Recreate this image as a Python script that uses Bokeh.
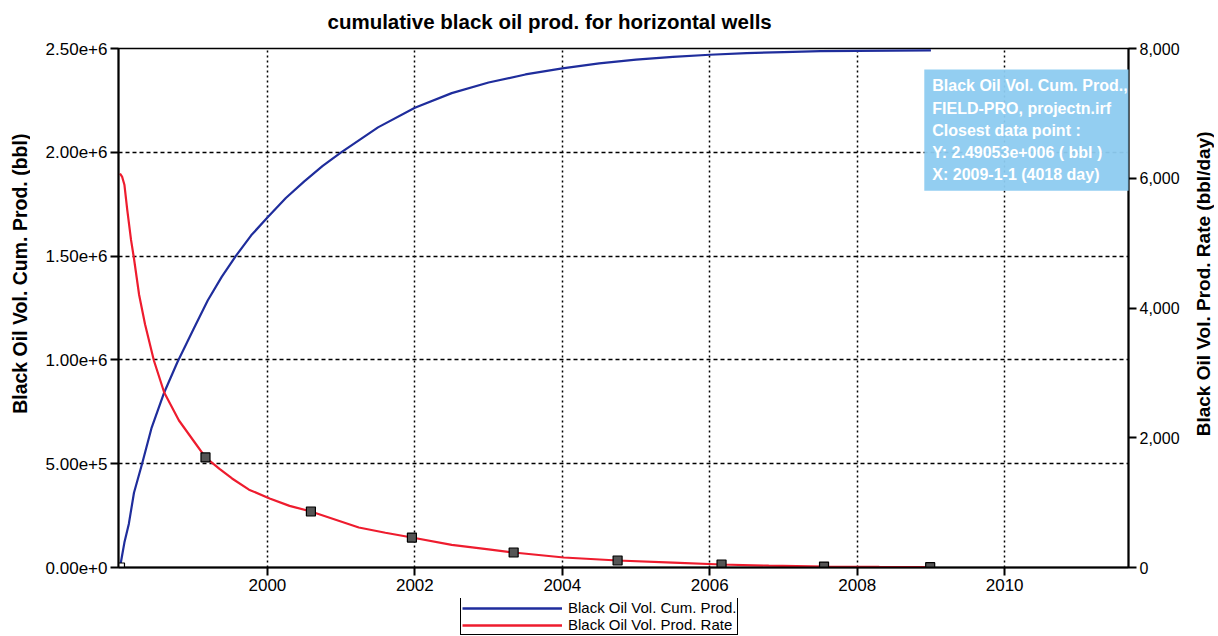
import math
from bokeh.plotting import figure
from bokeh.layouts import column, row
from bokeh.models import (Range1d, LinearAxis, FixedTicker, CustomJSTickFormatter,
                          NumeralTickFormatter, Legend, LegendItem, Label)
from bokeh.embed import file_html
from bokeh.resources import INLINE

# ---- data ----
cum_years = [1998.00, 1998.03, 1998.06, 1998.12, 1998.19, 1998.30, 1998.43, 1998.60,
             1998.78, 1999.00, 1999.19, 1999.38, 1999.57, 1999.78, 2000.00, 2000.25,
             2000.50, 2000.75, 2001.00, 2001.50, 2002.00, 2002.50, 2003.00, 2003.50,
             2004.00, 2004.50, 2005.00, 2005.50, 2006.00, 2006.50, 2007.00, 2007.50,
             2008.00, 2008.50, 2009.00]
cum_bbl = [0, 0.06e6, 0.12e6, 0.21e6, 0.36e6, 0.50e6, 0.674e6, 0.843e6,
           0.99e6, 1.15e6, 1.286e6, 1.40e6, 1.50e6, 1.60e6, 1.686e6, 1.78e6,
           1.86e6, 1.935e6, 2.00e6, 2.12e6, 2.215e6, 2.285e6, 2.336e6, 2.375e6,
           2.404e6, 2.428e6, 2.446e6, 2.460e6, 2.470e6, 2.478e6, 2.483e6, 2.487e6,
           2.489e6, 2.490e6, 2.49053e6]

rate_years = [1998.00, 1998.03, 1998.06, 1998.10, 1998.15, 1998.19, 1998.26, 1998.34,
              1998.46, 1998.60, 1998.80, 1999.00, 1999.16, 1999.35, 1999.52, 1999.75,
              2000.03, 2000.30, 2000.59, 2001.24, 2001.60, 2001.96, 2002.50, 2003.00,
              2003.34, 2004.02, 2004.75, 2005.50, 2006.16, 2006.80, 2007.55, 2008.30,
              2008.99]
rate_bbl_day = [6073, 6020, 5900, 5500, 5050, 4763, 4200, 3750,
                3191, 2697, 2266, 1950, 1696, 1520, 1372, 1200,
                1064, 950, 863, 617, 535, 462, 350, 280,
                231, 154, 108, 75, 46, 28, 15, 9,
                5]

marker_years = [1999.16, 2000.59, 2001.96, 2003.34, 2004.75, 2006.16, 2007.55, 2008.99]
marker_rates = [1696, 863, 462, 231, 108, 46, 15, 5]
origin_years = [1998.0]
origin_cum = [0]

x_ticks = [2000, 2002, 2004, 2006, 2008, 2010]
left_ticks = [0, 0.5e6, 1.0e6, 1.5e6, 2.0e6, 2.5e6]
right_ticks = [0, 2000, 4000, 6000, 8000]

title_text = "cumulative black oil prod. for horizontal wells"
left_label = "Black Oil Vol. Cum. Prod. (bbl)"
right_label = "Black Oil Vol. Prod. Rate (bbl/day)"
series_names = ["Black Oil Vol. Cum. Prod.", "Black Oil Vol. Prod. Rate"]
tip_text = ("Black Oil Vol. Cum. Prod.,\nFIELD-PRO, projectn.irf\nClosest data point :\n"
            "Y: 2.49053e+006 ( bbl )\nX:  2009-1-1 (4018 day)")

FONT = "Liberation Sans"
BLUE = "#1f2d9c"
RED = "#ee1c2e"


def strip(w, h):
    """A bare figure used only to hold text (title, side labels, legend)."""
    f = figure(width=w, height=h, x_range=Range1d(0, w), y_range=Range1d(0, h),
               x_axis_type=None, y_axis_type=None, output_backend="svg",
               toolbar_location=None, min_border=0)
    f.outline_line_color = None
    f.background_fill_color = "white"
    f.border_fill_color = "white"
    f.grid.visible = False
    return f


# ---------- title strip ----------
t_fig = strip(1214, 38)
t_fig.add_layout(Label(x=327, y=17, text=title_text, text_font=FONT,
                       text_font_size="20.5px", text_font_style="bold",
                       text_color="black", text_align="left",
                       text_baseline="alphabetic"))

# ---------- main plot ----------
p = figure(frame_width=1010, frame_height=519, x_range=Range1d(1997.98, 2011.68),
           y_range=Range1d(0, 2.5e6), output_backend="svg", toolbar_location=None,
           min_border_left=88, min_border_right=64, min_border_top=10,
           min_border_bottom=31)
p.extra_y_ranges = {"rate": Range1d(0, 8000)}
p.outline_line_color = "black"
p.outline_line_width = 1.5
p.background_fill_color = "white"
p.border_fill_color = "white"


def style_axis(ax):
    ax.axis_line_color = "black"
    ax.axis_line_width = 2
    ax.major_tick_line_color = "black"
    ax.major_tick_line_width = 2
    ax.major_tick_out = 8
    ax.major_tick_in = 0
    ax.minor_tick_line_color = None
    ax.major_label_text_font = FONT
    ax.major_label_text_font_size = "17px"
    ax.major_label_text_color = "black"
    ax.major_label_standoff = 3


xa = p.xaxis[0]
xa.ticker = FixedTicker(ticks=x_ticks)
style_axis(xa)

ya = p.yaxis[0]
ya.ticker = FixedTicker(ticks=left_ticks)
ya.formatter = CustomJSTickFormatter(code="return tick.toExponential(2);")
style_axis(ya)

ra = LinearAxis(y_range_name="rate", ticker=FixedTicker(ticks=right_ticks),
                formatter=NumeralTickFormatter(format="0,0"))
style_axis(ra)
ra.major_label_text_font_size = "16px"
p.add_layout(ra, "right")

p.xgrid.ticker = FixedTicker(ticks=x_ticks)
p.xgrid.grid_line_color = "black"
p.xgrid.grid_line_dash = "2 3"
p.xgrid.grid_line_width = 1.5
p.ygrid.ticker = FixedTicker(ticks=left_ticks)
p.ygrid.grid_line_color = "black"
p.ygrid.grid_line_dash = "4 3"
p.ygrid.grid_line_width = 1.5

p.line(cum_years, cum_bbl, line_color=BLUE, line_width=2.2)
p.line(rate_years, rate_bbl_day, y_range_name="rate", line_color=RED, line_width=2.2)
p.scatter(marker_years, marker_rates, y_range_name="rate", marker="square", size=9,
          fill_color="#555555", line_color="black", line_width=1.2)
p.scatter(origin_years, origin_cum, marker="square", size=9,
          fill_color="white", line_color="black", line_width=1.2)

tip = Label(x=2008.91, y=2.399e6, text=tip_text, text_font=FONT, text_font_size="16px",
            text_font_style="bold", text_color="white", text_baseline="top",
            text_align="left", text_line_height=1.3,
            background_fill_color="#8dcbf0", background_fill_alpha=0.95, padding=8)
p.add_layout(tip)

# ---------- side label strips ----------
MAIN_H = 10 + 519 + 31
l_fig = strip(30, MAIN_H)
l_fig.add_layout(Label(x=19.5, y=MAIN_H - 243, text=left_label, angle=math.pi / 2,
                       text_font=FONT, text_font_size="19.5px", text_font_style="bold",
                       text_color="black", text_align="center", text_baseline="middle"))
r_fig = strip(22, MAIN_H)
r_fig.add_layout(Label(x=11, y=MAIN_H - 254, text=right_label, angle=math.pi / 2,
                       text_font=FONT, text_font_size="19px", text_font_style="bold",
                       text_color="black", text_align="center", text_baseline="middle"))

# ---------- legend strip ----------
g_fig = strip(1214, 38)
# legend swatches: same line styles as the plotted series, placed off-view
g_cum = g_fig.line([-20, -10], [-20, -20], line_color=BLUE, line_width=2.5)
g_rate = g_fig.line([-20, -10], [-20, -20], line_color=RED, line_width=2.5)
legend = Legend(items=[LegendItem(label=series_names[0], renderers=[g_cum]),
                       LegendItem(label=series_names[1], renderers=[g_rate])],
                location=(460, 1), orientation="vertical",
                label_text_font=FONT, label_text_font_size="15px",
                label_text_color="black",
                label_height=14, glyph_height=14, glyph_width=100,
                spacing=0, padding=1, margin=0, label_standoff=6,
                border_line_color="black", border_line_width=1.5,
                border_line_alpha=1.0,
                background_fill_color="white")
g_fig.add_layout(legend, "center")

layout = column(t_fig, row(l_fig, p, r_fig), g_fig)

open("out.html", "w").write(file_html(layout, INLINE))
